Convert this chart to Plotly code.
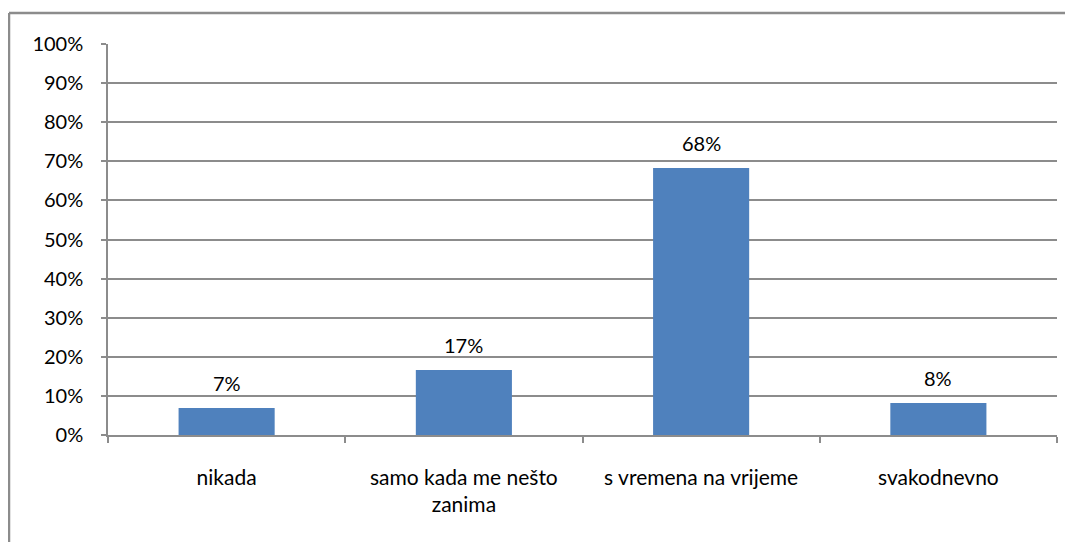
import plotly.graph_objects as go

categories = ["nikada", "samo kada me nešto<br>zanima", "s vremena na vrijeme", "svakodnevno"]
values = [0.069, 0.166, 0.683, 0.082]
labels = ["7%", "17%", "68%", "8%"]
y_ticks = [i / 10 for i in range(11)]
y_tick_text = [f"{i*10}%" for i in range(11)]

# page body adds an 8px offset; the figure is sized to the window
W, H = 1073, 542
OFF = 8
L, T = 108 - OFF, 44 - OFF
pw, ph = 949, 391
R, B = W - L - pw, H - T - ph

font = dict(family="Lato, Calibri, Carlito, sans-serif", size=20, color="#000000")
xfont = dict(family="Lato, Calibri, Carlito, sans-serif", size=21, color="#000000")
grid = "#8c8c8c"

fig = go.Figure(go.Bar(
    x=categories, y=values,
    marker=dict(color="#4F81BD", line=dict(width=0)),
    hoverinfo="skip",
))

for c, v, t in zip(categories, values, labels):
    fig.add_annotation(x=c, y=v, text=t, showarrow=False, yanchor="bottom",
                       yshift=11, font=font)

# outer chart border (top and left edges visible)
x0 = (9 - OFF - L) / pw
y0 = 1 + (T - (13 - OFF)) / ph
fig.add_shape(type="line", xref="paper", yref="paper", x0=x0, x1=1 + (R + 5) / pw,
              y0=y0, y1=y0, line=dict(color="#8c8c8c", width=2.5))
fig.add_shape(type="line", xref="paper", yref="paper", x0=x0, x1=x0,
              y0=y0, y1=-(B + 5) / ph, line=dict(color="#8c8c8c", width=2.5))

fig.update_layout(
    width=W, height=H,
    margin=dict(l=L, r=R, t=T, b=B, autoexpand=False),
    paper_bgcolor="white", plot_bgcolor="white",
    bargap=0.595,
    showlegend=False,
    font=font,
    xaxis=dict(
        type="category", tickson="boundaries", ticks="outside", ticklen=6,
        tickcolor=grid, tickwidth=1.5, showline=True, linecolor=grid, linewidth=1.5,
        showgrid=False, tickfont=xfont, ticklabelstandoff=23, fixedrange=True,
        automargin=False,
    ),
    yaxis=dict(
        range=[0, 1], tickvals=y_ticks, ticktext=y_tick_text,
        ticks="outside", ticklen=5, tickcolor=grid, tickwidth=1.5,
        showline=True, linecolor=grid, linewidth=1.5,
        showgrid=True, gridcolor=grid, gridwidth=1.5, zeroline=False,
        tickfont=font, ticklabelstandoff=14, fixedrange=True,
        automargin=False,
    ),
)

fig.write_html("out.html")
